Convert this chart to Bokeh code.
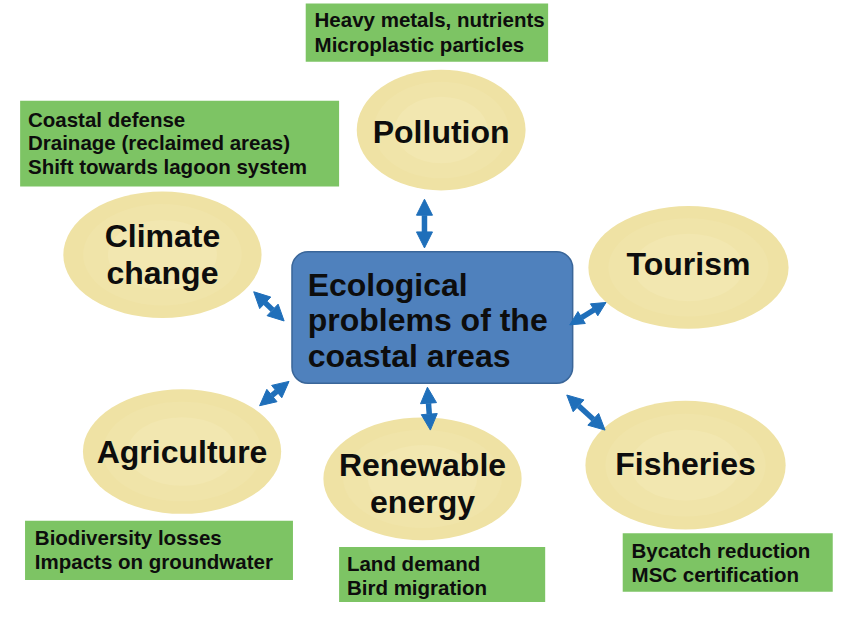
from bokeh.plotting import figure
from bokeh.models import Range1d, Arrow, NormalHead
from bokeh.core.properties import value
from bokeh.embed import file_html
from bokeh.resources import INLINE

# ---- content ----
center_lines = ["Ecological", "problems of the", "coastal areas"]
topics = ["Pollution", "Climate\nchange", "Tourism", "Agriculture", "Renewable\nenergy", "Fisheries"]
notes_pollution = ["Heavy metals, nutrients", "Microplastic particles"]
notes_climate = ["Coastal defense", "Drainage (reclaimed areas)", "Shift towards lagoon system"]
notes_agri = ["Biodiversity losses", "Impacts on groundwater"]
notes_energy = ["Land demand", "Bird migration"]
notes_fish = ["Bycatch reduction", "MSC certification"]

# ---- layout (reference pixel coordinates) ----
ell_cx = [449, 165, 701, 185, 430, 698]
ell_cy = [133, 261, 274, 463, 491, 477]
ell_w = [172, 202, 204, 202, 202, 204]
ell_h = [124, 130, 126, 128, 126, 132]
label_y = [135, 261, 270, 463, 496, 476]

boxes = [  # left, right, top, bottom, text x, first line y, line step, notes
    (311, 558, 3, 63, 320, 20, 25, notes_pollution),
    (20, 345, 103, 191, 28, 122, 24, notes_climate),
    (25, 298, 534, 595, 35, 551, 25, notes_agri),
    (345, 555, 561, 620, 353, 578, 25, notes_energy),
    (634, 848, 547, 607, 643, 565, 24, notes_fish),
]

arrows = [  # x0, y0, x1, y1, head size
    (432, 204, 432, 254, 16),
    (258, 299, 289, 329, 16),
    (264, 416, 294, 391, 16),
    (435, 397, 438, 441, 16),
    (577, 405, 616, 441, 16),
    (580, 333, 617, 310, 14),
]

FONT = value("Liberation Sans")

p = figure(width=845, height=602, x_range=Range1d(0, 861), y_range=Range1d(618, 0),
           output_backend="svg", toolbar_location=None, x_axis_type=None, y_axis_type=None,
           min_border=0)
p.grid.visible = False
p.outline_line_color = None
p.background_fill_color = "white"
p.border_fill_color = "white"

# ellipses with a faint radial shading
shades = [("#efe2a4", 1.0), ("#f0e4a9", 0.8), ("#f2e7b0", 0.55)]
for col, f in shades:
    p.ellipse(x=ell_cx, y=ell_cy, width=[w * f for w in ell_w], height=[h * f for h in ell_h],
              fill_color=col, line_color=None)

for i, t in enumerate(topics):
    lines = t.split("\n")
    n = len(lines)
    for j, ln in enumerate(lines):
        dy = (j - (n - 1) / 2) * 38
        p.text(x=[ell_cx[i]], y=[label_y[i] + dy], text=[ln], text_font=FONT, text_font_style="bold",
               text_font_size="32px", text_align="center", text_baseline="middle", text_color="#0d0d0d")

# central box
p.quad(left=[297], right=[583], top=[258], bottom=[393], fill_color="#4f81bd",
       line_color="#3a6699", line_width=1.5, border_radius=16)
for j, ln in enumerate(center_lines):
    p.text(x=[313], y=[292 + j * 36.5], text=[ln], text_font=FONT, text_font_style="bold",
           text_font_size="32px", text_align="left", text_baseline="middle", text_color="#0d0d0d")

# green note boxes
for (l, r, t, b, tx, ty, step, notes) in boxes:
    p.quad(left=[l], right=[r], top=[t], bottom=[b], fill_color="#7dc464", line_color=None)
    for j, ln in enumerate(notes):
        p.text(x=[tx], y=[ty + j * step], text=[ln], text_font=FONT, text_font_style="bold",
               text_font_size="20.5px", text_align="left", text_baseline="middle", text_color="#0d0d0d")

# double-headed arrows
for (x0, y0, x1, y1, hs) in arrows:
    p.add_layout(Arrow(x_start=x0, y_start=y0, x_end=x1, y_end=y1, line_color="#1f6fba", line_width=5.5,
                       start=NormalHead(size=hs, fill_color="#1f6fba", line_color="#1f6fba"),
                       end=NormalHead(size=hs, fill_color="#1f6fba", line_color="#1f6fba")))

open("out.html", "w").write(file_html(p, INLINE))
